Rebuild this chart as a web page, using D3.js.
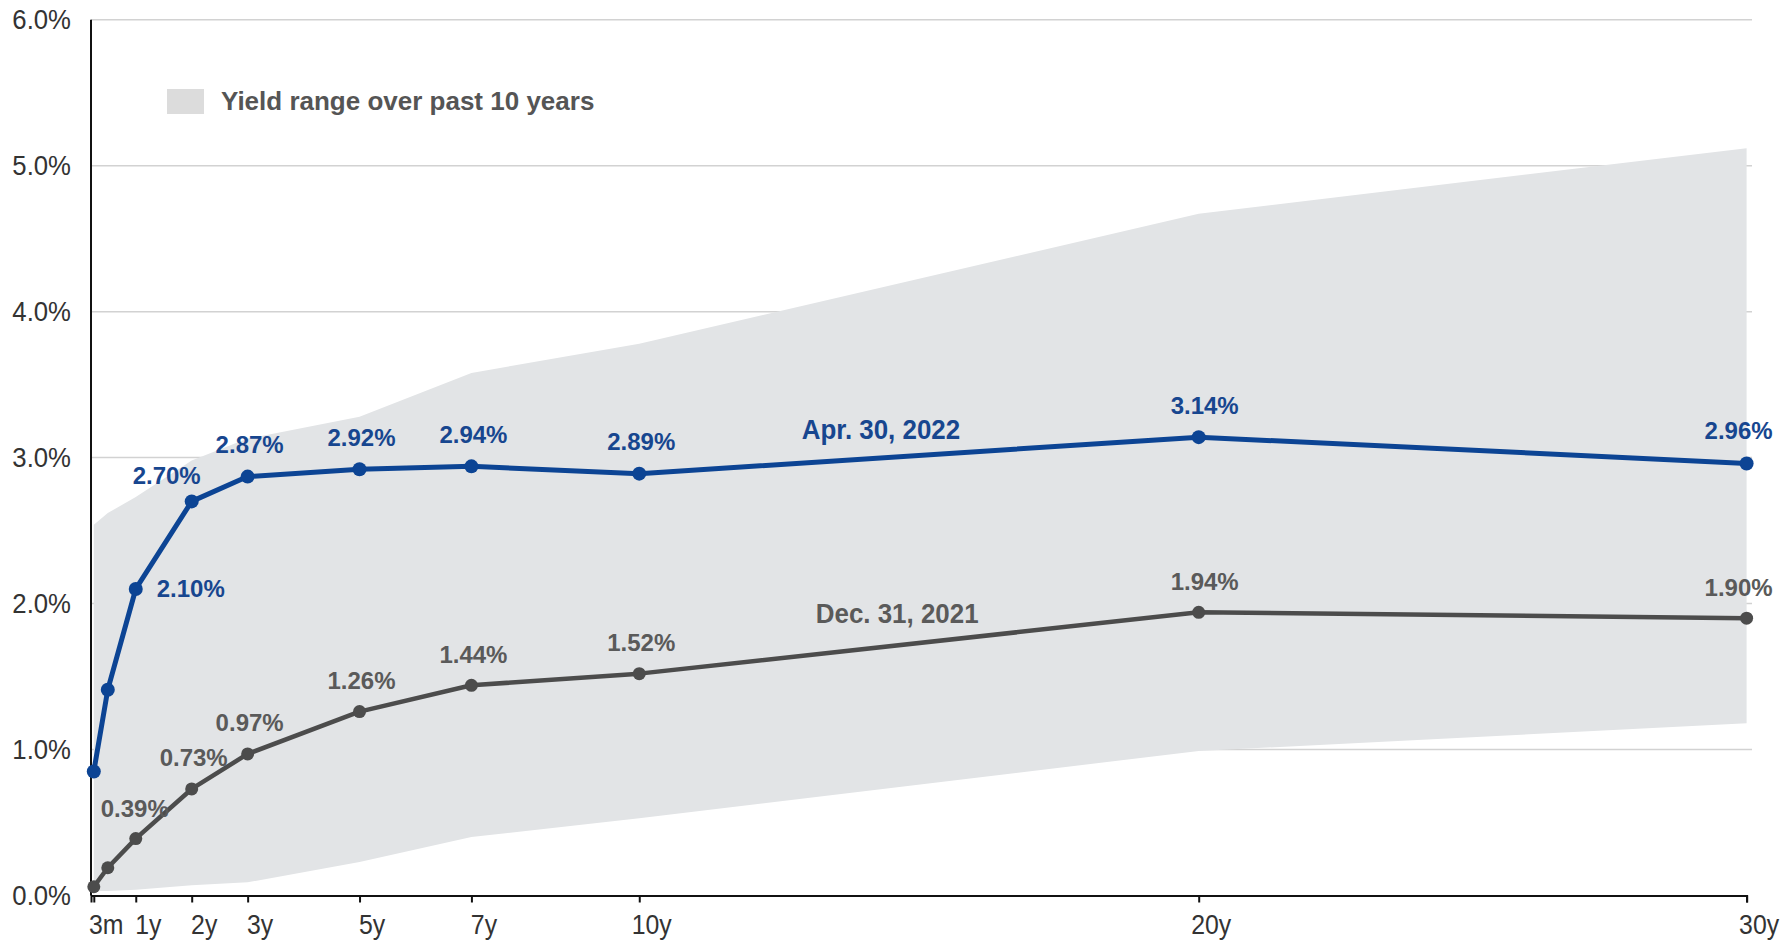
<!DOCTYPE html>
<html>
<head>
<meta charset="utf-8">
<script src="https://cdn.jsdelivr.net/npm/d3@7"></script>
<style>
  html, body { margin: 0; padding: 0; background: #ffffff; }
  svg { display: block; }
  text { font-family: "Liberation Sans", Arial, sans-serif; }
</style>
</head>
<body>
<svg id="chart" width="1790" height="940"></svg>
<script>
// ---------------- data ----------------
const maturities = [0.25, 0.5, 1, 2, 3, 5, 7, 10, 20, 30];
const tickValues = [0.25, 1, 2, 3, 5, 7, 10, 20, 30];
const tickLabels = ["3m", "1y", "2y", "3y", "5y", "7y", "10y", "20y", "30y"];
const yTickValues = [0, 1, 2, 3, 4, 5, 6];

const apr2022 = [0.85, 1.41, 2.10, 2.70, 2.87, 2.92, 2.94, 2.89, 3.14, 2.96];
const dec2021 = [0.06, 0.19, 0.39, 0.73, 0.97, 1.26, 1.44, 1.52, 1.94, 1.90];

const rangeHigh = [2.54, 2.62, 2.73, 2.98, 3.13, 3.28, 3.58, 3.78, 4.67, 5.12];
const rangeLow  = [0.03, 0.03, 0.04, 0.07, 0.09, 0.23, 0.40, 0.53, 0.99, 1.18];

const seriesNames = ["Apr. 30,  2022", "Dec. 31, 2021"];
// anchor of series name labels in data space [maturity, yield]
const seriesNameAnchor = [[14.32, 3.19], [14.61, 1.93]];
const legendText = "Yield range over past 10 years";

// which points carry value labels (indices into maturities)
const labelledIdx = [2, 3, 4, 5, 6, 7, 8, 9];

// ---------------- layout / style ----------------
const svg = d3.select("#chart");
const x = d3.scaleLinear().domain([0.2, 20, 30]).range([91, 1198.7, 1746.6]);
const y = d3.scaleLinear().domain([0, 6]).range([895.5, 19.7]);

const blue = "#0c4494", blueText = "#17468f";
const grey = "#4c4c4c", greyText = "#5a5a5a";
const bandFill = "#e2e4e6";
const axisSX = 0.92;  // horizontal squeeze of axis lettering
const nameSX = 0.96;  // horizontal squeeze of series names

// label offsets (dx, dy) relative to point for the value labels
function blueOffset(i) {
  if (i === 2) return [55, 0];
  if (i === 3) return [-25, -26];
  if (i === 8) return [6, -32];
  if (i === 9) return [-8, -33];
  return [2, -32];
}
function greyOffset(i) {
  if (i === 2) return [-1, -30];
  if (i === 8) return [6, -31];
  if (i === 9) return [-8, -31];
  return [2, -31];
}

// gridlines
svg.append("g")
  .selectAll("line")
  .data(yTickValues.filter(d => d > 0))
  .join("line")
  .attr("x1", x(0.2)).attr("x2", 1752)
  .attr("y1", d => y(d)).attr("y2", d => y(d))
  .attr("stroke", "#d2d2d2").attr("stroke-width", 1.5);

// band
const bandData = maturities.map((m, i) => ({ m, lo: rangeLow[i], hi: rangeHigh[i] }));
svg.append("path")
  .datum(bandData)
  .attr("fill", bandFill)
  .attr("d", d3.area().x(d => x(d.m)).y0(d => y(d.lo)).y1(d => y(d.hi)));

// legend
svg.append("rect").attr("x", 167).attr("y", 89).attr("width", 37).attr("height", 25).attr("fill", "#dcdcdc");
svg.append("text").attr("x", 221).attr("y", 101)
  .attr("dominant-baseline", "central").attr("font-size", 26).attr("font-weight", "bold")
  .attr("fill", "#555")
  .text(legendText);

// axes
const yAxis = d3.axisLeft(y).tickValues(yTickValues).tickSize(0).tickPadding(20)
  .tickFormat(d => d3.format(".1f")(d) + "%");
const gy = svg.append("g").attr("transform", `translate(${x(0.2)},0)`).call(yAxis);
gy.select(".domain").remove();
gy.selectAll("text")
  .attr("font-family", null)
  .attr("font-size", 28).attr("fill", "#333")
  .attr("x", -20 / axisSX)
  .attr("transform", `scale(${axisSX},1)`);

const xAxis = d3.axisBottom(x).tickValues(tickValues).tickSize(7).tickPadding(12)
  .tickFormat((d, i) => tickLabels[i]);
const gx = svg.append("g").attr("transform", `translate(0,${y(0)})`).call(xAxis);
gx.select(".domain").attr("stroke", "#111").attr("stroke-width", 2);
gx.selectAll(".tick line").attr("stroke", "#111").attr("stroke-width", 2);
gx.selectAll("text")
  .attr("font-family", null)
  .attr("font-size", 27).attr("fill", "#333")
  .attr("x", 12 / axisSX)
  .attr("transform", `scale(${axisSX},1)`);

// y axis line
svg.append("line").attr("x1", x(0.2)).attr("x2", x(0.2))
  .attr("y1", y(6)).attr("y2", y(0)).attr("stroke", "#111").attr("stroke-width", 2);

// series
function drawSeries(vals, color, textColor, sw, r, offsetFn, name, anchor) {
  const pts = maturities.map((m, i) => ({ m, v: vals[i], i }));
  svg.append("path").datum(pts)
    .attr("fill", "none").attr("stroke", color).attr("stroke-width", sw)
    .attr("stroke-linejoin", "round")
    .attr("d", d3.line().x(d => x(d.m)).y(d => y(d.v)));
  svg.append("g").selectAll("circle").data(pts).join("circle")
    .attr("cx", d => x(d.m)).attr("cy", d => y(d.v)).attr("r", r).attr("fill", color);
  svg.append("g").selectAll("text").data(pts.filter(d => labelledIdx.includes(d.i))).join("text")
    .attr("font-weight", "bold").attr("font-size", 24).attr("fill", textColor)
    .attr("text-anchor", "middle").attr("dominant-baseline", "central")
    .attr("x", d => x(d.m) + offsetFn(d.i)[0])
    .attr("y", d => y(d.v) + offsetFn(d.i)[1])
    .text(d => d3.format(".2f")(d.v) + "%");
  svg.append("text").attr("font-size", 27).attr("font-weight", "bold")
    .attr("fill", textColor).attr("text-anchor", "middle").attr("dominant-baseline", "central")
    .attr("transform", `translate(${x(anchor[0])},${y(anchor[1])}) scale(${nameSX},1)`)
    .text(name);
}
drawSeries(dec2021, grey, greyText, 4.5, 6.5, greyOffset, seriesNames[1], seriesNameAnchor[1]);
drawSeries(apr2022, blue, blueText, 5, 7, blueOffset, seriesNames[0], seriesNameAnchor[0]);
</script>
</body>
</html>
